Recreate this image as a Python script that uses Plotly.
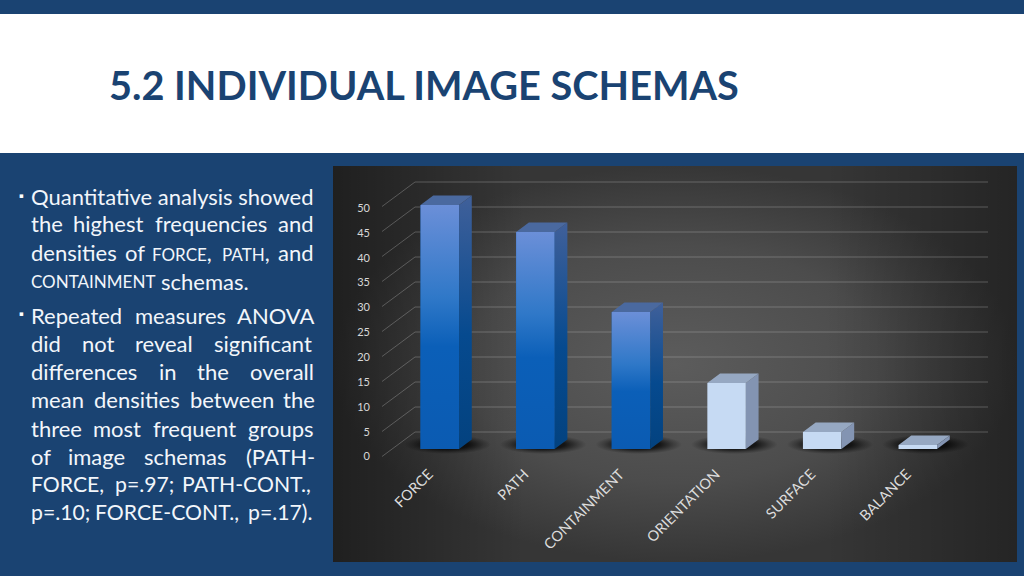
import plotly.graph_objects as go

categories = ["FORCE", "PATH", "CONTAINMENT", "ORIENTATION", "SURFACE", "BALANCE"]
values = [48.8, 43.4, 27.4, 13.2, 3.4, 0.8]
y_ticks = [0, 5, 10, 15, 20, 25, 30, 35, 40, 45, 50]

W, H = 1024, 576
NAVY = "#1a4372"
PX_PER_CAT = 95.6
X0_PX = 439.8
def xd(px): return (px - X0_PX) / PX_PER_CAT
BAR_W = 0.403
DX, DY = 0.133, 1.9        # depth of the 3D boxes in data units
WALL_DY = 3.4              # rear wall height above bar base, data units
LIGHT_FROM = 3
LAB_Y0, LAB_SCALE = 456.5, 4.97

fig = go.Figure()

def poly(xs, ys, yaxis, color=None, grad=None, gtype="vertical"):
    kw = dict(x=list(xs) + [xs[0]], y=list(ys) + [ys[0]], mode="lines", fill="toself",
              line=dict(width=0), hoverinfo="skip", showlegend=False, yaxis=yaxis)
    if grad:
        kw["fillgradient"] = dict(type=gtype, colorscale=grad)
    else:
        kw["fillcolor"] = color
    fig.add_trace(go.Scatter(**kw))

# chart panel background (on the primary axes, lowest in the stack)
PX0, PX1 = xd(333), xd(1017)
PY_TOP, PY_BOT = (LAB_Y0 - 166) / LAB_SCALE, (LAB_Y0 - 562) / LAB_SCALE
poly([PX0, PX1, PX1, PX0], [PY_TOP, PY_TOP, PY_BOT, PY_BOT], "y",
     grad=[[0, "#5c5c5c"], [0.6, "#4c4c4c"], [1, "#363636"]], gtype="radial")
poly([PX0, PX1, PX1, PX0], [PY_TOP, PY_TOP, PY_BOT, PY_BOT], "y",
     grad=[[0, "rgba(0,0,0,0.42)"], [0.28, "rgba(0,0,0,0)"], [0.72, "rgba(0,0,0,0)"], [1, "rgba(0,0,0,0.32)"]],
     gtype="horizontal")

# rear wall grid lines and diagonal side-wall lines
gx, gy = [], []
for v in y_ticks:
    gx += [xd(415), xd(988), None]
    gy += [v + WALL_DY, v + WALL_DY, None]
for v in y_ticks:
    gx += [xd(382), xd(415), None]
    gy += [v - 1.5, v + WALL_DY, None]
fig.add_trace(go.Scatter(x=gx, y=gy, mode="lines", yaxis="y2", hoverinfo="skip", showlegend=False,
                         line=dict(color="rgba(205,205,205,0.3)", width=1)))

# soft floor shadows
for i in range(len(categories)):
    l, r = i - BAR_W / 2 - 0.17, i + BAR_W / 2 + DX + 0.2
    poly([l, r, r, l], [-1.0, -1.0, 2.8, 2.8], "y2",
         grad=[[0, "rgba(0,0,0,0.92)"], [0.5, "rgba(0,0,0,0.72)"], [0.8, "rgba(0,0,0,0.25)"], [1, "rgba(0,0,0,0)"]],
         gtype="radial")

# front faces
colors = ["#0b5cb4"] * LIGHT_FROM + ["#c6daf3"] * (len(values) - LIGHT_FROM)
fig.add_trace(go.Bar(x=list(range(len(categories))), y=values, width=BAR_W, yaxis="y3",
                     marker=dict(color=colors, line=dict(width=0)), showlegend=False))

FRONT_GRAD = [[0, "#0b5bb2"], [0.42, "#0b5fb8"], [0.62, "#2f78c8"], [1, "#6b8fd8"]]
SIDE_GRAD = [[0, "#03427f"], [0.45, "#064a8f"], [1, "#40609a"]]
for i, v in enumerate(values):
    l, r = i - BAR_W / 2, i + BAR_W / 2
    if i < LIGHT_FROM:
        poly([l, r, r, l], [0, 0, v, v], "y3", grad=FRONT_GRAD)
        poly([r, r + DX, r + DX, r], [0, DY, v + DY, v], "y3", grad=SIDE_GRAD)
        poly([l, r, r + DX, l + DX], [v, v, v + DY, v + DY], "y3", color="#4a699f")
    else:
        poly([r, r + DX, r + DX, r], [0, DY, v + DY, v], "y3", color="#8394b2")
        poly([l, r, r + DX, l + DX], [v, v, v + DY, v + DY], "y3", color="#96a8c2")

# page furniture
shapes = [
    dict(type="rect", xref="paper", yref="paper", x0=0, x1=1, y0=1 - 153 / H, y1=1 - 14 / H,
         fillcolor="white", line_width=0, layer="below"),
]

anns = [dict(text="<b>5.2 INDIVIDUAL IMAGE SCHEMAS</b>", x=107 / W, y=1 - 85 / H, xref="paper", yref="paper",
             xanchor="left", yanchor="middle", showarrow=False, font=dict(family="Lato", size=39.7, color=NAVY))]

SC = '<span style="font-size:17px">%s</span>'
lines = [
    (196, 22, [(29, "Quantitative analysis showed")]),
    (224, 22, [(29, "the"), (71, "highest"), (153, "frequencies"), (276, "and")]),
    (252, 22, [(29, "densities"), (123, "of"), (150, SC % "FORCE" + ","), (220, SC % "PATH" + ","), (276, "and")]),
    (281, 22, [(29, SC % "CONTAINMENT"), (159, "schemas.")]),
    (315, 22, [(29, "Repeated"), (133, "measures"), (235, "ANOVA")]),
    (343, 22, [(29, "did"), (80, "not"), (133, "reveal"), (212, "significant")]),
    (371, 22, [(29, "differences"), (157, "in"), (195, "the"), (248, "overall")]),
    (399, 22, [(29, "mean"), (92, "densities"), (188, "between"), (281, "the")]),
    (428, 22, [(29, "three"), (91, "most"), (151, "frequent"), (246, "groups")]),
    (456, 22, [(29, "of"), (66, "image"), (142, "schemas"), (244, "(PATH-")]),
    (484, 21.2, [(29, "FORCE,"), (113, "p=.97;"), (180, "PATH-CONT.,")]),
    (512, 21.2, [(29, "p=.10;"), (93, "FORCE-CONT.,"), (246, "p=.17).")]),
]
for yp, size, words in lines:
    for xp, t in words:
        anns.append(dict(text=t, x=xp / W, y=1 - yp / H, xref="paper", yref="paper", xanchor="left",
                         yanchor="middle", showarrow=False, font=dict(family="Lato", size=size, color="#f2f6fb")))
for yp in (190, 314):
    anns.append(dict(text="▪", x=17 / W, y=1 - yp / H, xref="paper", yref="paper", showarrow=False,
                     font=dict(family="DejaVu Sans", size=7, color="white")))

lab_top, lab_bot = LAB_Y0 / LAB_SCALE, (LAB_Y0 - H) / LAB_SCALE
bar_top, bar_bot = 449 / 5, (449 - H) / 5
fig.update_layout(
    width=W, height=H, autosize=False, margin=dict(l=0, r=0, t=0, b=0), paper_bgcolor=NAVY, plot_bgcolor="rgba(0,0,0,0)",
    showlegend=False, shapes=shapes, annotations=anns, barmode="overlay",
    xaxis=dict(domain=[0, 1], range=[xd(0), xd(W)], anchor="free", position=1 - 462 / H, showgrid=False, zeroline=False,
               showline=False, tickmode="array", tickvals=list(range(len(categories))), ticktext=categories,
               tickangle=-45, ticks="", ticklabelshift=-11, tickfont=dict(family="Lato", size=14.5, color="#dcdcdc")),
    yaxis=dict(domain=[0, 1], range=[lab_bot, lab_top], anchor="free", position=370 / W, showgrid=False,
               zeroline=False, showline=False, tickmode="array", tickvals=y_ticks, ticks="",
               tickfont=dict(family="Lato", size=11, color="#d8d8d8")),
    yaxis2=dict(domain=[0, 1], range=[bar_bot, bar_top], overlaying="y", visible=False),
    yaxis3=dict(domain=[0, 1], range=[bar_bot, bar_top], overlaying="y", visible=False),
)
fig.write_html("out.html", config=dict(displayModeBar=False),
               post_script="document.body.style.margin='0';document.documentElement.style.background='%s';" % NAVY)
